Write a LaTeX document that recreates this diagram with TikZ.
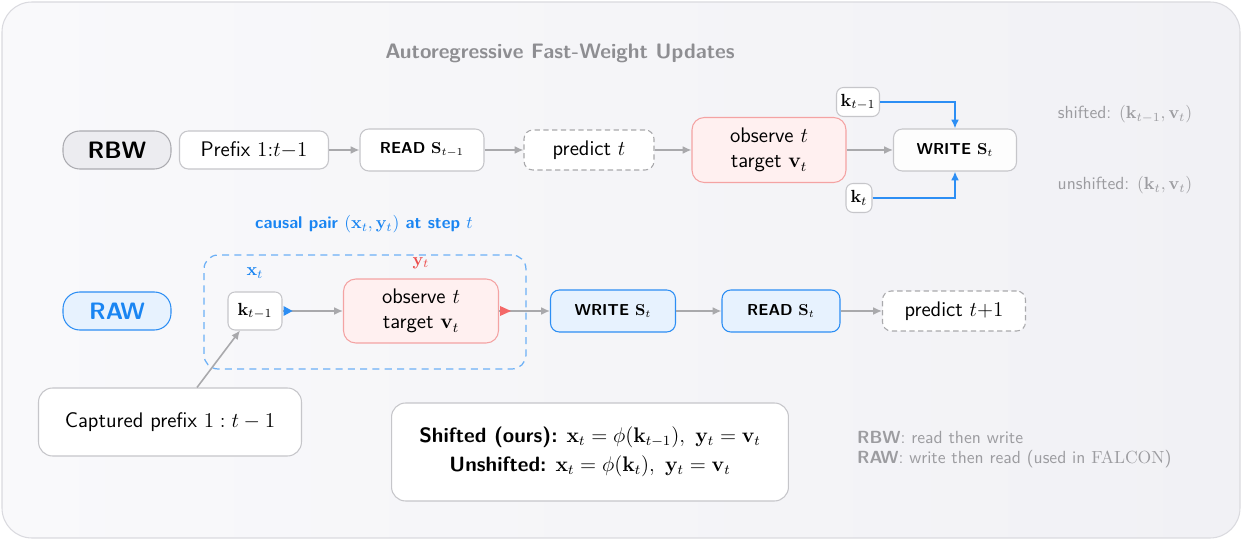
\documentclass[tikz,border=0pt]{standalone}
\usepackage{tikz}
\usetikzlibrary{arrows.meta,calc}

\definecolor{bgleft}{HTML}{F9F9FB}
\definecolor{bgright}{HTML}{F1F1F5}
\definecolor{bgedge}{HTML}{DADADF}
\definecolor{boxedge}{HTML}{C6C6CA}
\definecolor{arrgray}{HTML}{A9A9AC}
\definecolor{txtgray}{HTML}{8E8E92}
\definecolor{lightgray}{HTML}{9C9CA0}
\definecolor{rbwfill}{HTML}{ECECF0}
\definecolor{rbwedge}{HTML}{ABABB0}
\definecolor{obsfill}{HTML}{FFF0F0}
\definecolor{obsedge}{HTML}{F4A3A3}
\definecolor{xblue}{HTML}{2C8EF4}
\definecolor{xbluetxt}{HTML}{1A85F2}
\definecolor{bluefill}{HTML}{E7F2FE}
\definecolor{bluedash}{HTML}{6CB0F6}
\definecolor{yred}{HTML}{EC4C4C}
\definecolor{redtip}{HTML}{F46868}

\newcommand{\mainsz}{\fontsize{12}{14.5}\selectfont}
\newcommand{\smallsz}{\fontsize{9}{11}\selectfont}
\newcommand{\notesz}{\fontsize{10}{11.3}\selectfont}

\tikzset{
    box/.style={draw=boxedge, fill=white, line width=0.6pt, rounded corners=5pt,
        inner sep=0pt, align=center, font=\sffamily\mainsz},
    opbox/.style={box, font=\sffamily\bfseries\smallsz, minimum height=0.84cm},
    predbox/.style={box, dashed, dash pattern=on 3pt off 2pt, draw=arrgray, minimum height=0.8cm},
    obsbox/.style={box, fill=obsfill, draw=obsedge, rounded corners=7pt,
        minimum width=3.08cm, minimum height=1.3cm},
    keybox/.style={box, rounded corners=4pt, font=\fontsize{10}{12}\selectfont, minimum height=0.58cm},
    pill/.style={box, rounded corners=9.5pt, font=\sffamily\bfseries\fontsize{13.5}{16}\selectfont,
        minimum width=2.16cm, minimum height=0.76cm},
    flow/.style={draw=arrgray, line width=0.9pt, -{Latex[length=5pt,width=4.5pt]}},
    keyflow/.style={draw=xblue, line width=1.2pt, -{Latex[length=5pt,width=4.5pt]}},
    note/.style={text=lightgray, font=\sffamily\notesz}
}

\begin{document}
\begin{tikzpicture}[x=0.02cm,y=-0.02cm]
    \useasboundingbox (0,0) rectangle (1242,540);
    \shade[left color=bgleft, right color=bgright, draw=bgedge, line width=0.6pt,
        rounded corners=0.6cm] (2,2) rectangle (1240,538);

    \node[text=txtgray, font=\sffamily\bfseries\fontsize{11.9}{14}\selectfont] (title) at (560,53)
        {Autoregressive Fast-Weight Updates};

    % read-before-write row
    \node[pill, fill=rbwfill, draw=rbwedge] (rbw) at (117,150) {RBW};
    \node[box, minimum width=2.98cm, minimum height=0.76cm] (prefix) at (254,150) {Prefix $1{:}t{-}1$};
    \node[opbox, minimum width=2.48cm] (read1) at (422,150) {READ $\mathbf{S}_{t-1}$};
    \node[predbox, minimum width=2.6cm] (pred1) at (589,150) {predict $t$};
    \node[obsbox] (obs1) at (769,150) {observe $t$\\target $\mathbf{v}_t$};
    \node[opbox, fill=white!60!bgleft, minimum width=2.46cm] (write1) at (955,150) {WRITE $\mathbf{S}_t$};
    \node[keybox, minimum width=0.86cm] (kprev) at (858,102) {$\mathbf{k}_{t-1}$};
    \node[keybox, minimum width=0.52cm] (kcur) at (859,198) {$\mathbf{k}_t$};

    \draw[flow] (prefix) -- (read1);
    \draw[flow] (read1) -- (pred1);
    \draw[flow] (pred1) -- (obs1);
    \draw[flow] (obs1) -- (write1);
    \draw[keyflow] (kprev.east) -| (write1.north);
    \draw[keyflow] (kcur.east) -| (write1.south);

    \node[note] (shifted) at (1125,114) {shifted: $(\mathbf{k}_{t-1},\mathbf{v}_t)$};
    \node[note] (unshifted) at (1125,185) {unshifted: $(\mathbf{k}_t,\mathbf{v}_t)$};

    % read-after-write row
    \node[text=xbluetxt, font=\sffamily\bfseries\fontsize{9.7}{11}\selectfont] (pairlabel) at (364,224)
        {causal pair $(\mathbf{x}_t,\mathbf{y}_t)$ at step $t$};
    \node[draw=bluedash, dashed, dash pattern=on 4pt off 3pt, line width=0.7pt, rounded corners=8pt,
        minimum width=6.44cm, minimum height=2.28cm] (pair) at (365,312) {};
    \node[pill, fill=bluefill, draw=xblue, text=xbluetxt] (raw) at (117,311) {RAW};
    \node[keybox, minimum width=1.08cm, minimum height=0.76cm] (kin) at (255,311) {$\mathbf{k}_{t-1}$};
    \node[text=xbluetxt, font=\fontsize{10}{12}\selectfont] (xlab) at (255,273) {$\mathbf{x}_t$};
    \node[obsbox, minimum width=3.1cm, minimum height=1.28cm] (obs2) at (421,311) {observe $t$\\target $\mathbf{v}_t$};
    \node[text=yred, font=\fontsize{10}{12}\selectfont] (ylab) at (421,263) {$\mathbf{y}_t$};
    \node[opbox, fill=bluefill, draw=xblue, minimum width=2.5cm] (write2) at (613,311) {WRITE $\mathbf{S}_t$};
    \node[opbox, fill=bluefill, draw=xblue, minimum width=2.36cm] (read2) at (781,311) {READ $\mathbf{S}_t$};
    \node[predbox, minimum width=2.86cm] (pred2) at (954,311) {predict $t{+}1$};

    \draw[flow] (kin) -- (obs2);
    \draw[flow] (obs2) -- (write2);
    \draw[flow] (write2) -- (read2);
    \draw[flow] (read2) -- (pred2);
    \fill[xblue] ($(kin.east)+(1,-5)$) -- ($(kin.east)+(10,0)$) -- ($(kin.east)+(1,5)$) -- cycle;
    \fill[redtip] ($(obs2.east)+(1,-5)$) -- ($(obs2.east)+(12,0)$) -- ($(obs2.east)+(1,5)$) -- cycle;

    % captured prefix and summary
    \node[box, rounded corners=8pt, minimum width=5.26cm, minimum height=1.36cm] (captured) at (170,422)
        {Captured prefix $1:t-1$};
    \draw[flow] ($(captured.north)+(27,0)$) -- ($(kin.south)+(-15,0)$);

    \node[box, rounded corners=8pt, minimum width=7.94cm, minimum height=1.96cm,
        font=\sffamily\fontsize{11.8}{16.5}\selectfont, align=center] (summary) at (590,452)
        {\textbf{Shifted (ours):} $\mathbf{x}_t=\phi(\mathbf{k}_{t-1}),\ \mathbf{y}_t=\mathbf{v}_t$\\
         \textbf{Unshifted:} $\mathbf{x}_t=\phi(\mathbf{k}_t),\ \mathbf{y}_t=\mathbf{v}_t$};

    \node[note, anchor=west, align=left] (legend) at (851,450)
        {\textbf{RBW}: read then write\\\textbf{RAW}: write then read (used in $\mathrm{FALCON}$)};
\end{tikzpicture}
\end{document}
